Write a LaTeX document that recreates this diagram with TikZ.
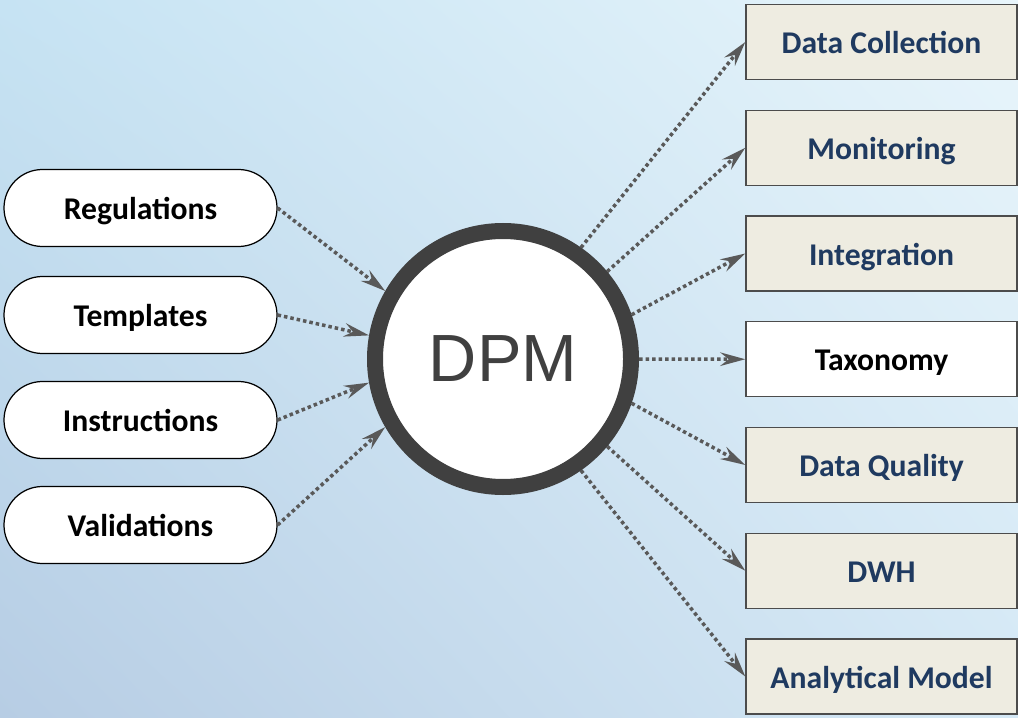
\documentclass[tikz,border=0pt]{standalone}
\usepackage{fontspec}
\setmainfont{Carlito}
\newfontfamily\dpmfont{Liberation Sans}
\usetikzlibrary{arrows.meta,shadings}
\definecolor{bgtl}{HTML}{C6E3F3}
\definecolor{bgtr}{HTML}{E8F5FB}
\definecolor{bgbl}{HTML}{B7CDE4}
\definecolor{bgbr}{HTML}{D4E8F5}
\definecolor{boxbeige}{HTML}{EEECE1}
\definecolor{navytext}{HTML}{1F3A60}
\definecolor{dotgray}{HTML}{595959}
\tikzset{
  source/.style={draw=black, line width=0.7pt, fill=white, rounded corners=0.77cm,
    minimum width=5.46cm, minimum height=1.54cm, text height=16pt, text depth=2.5pt,
    font=\bfseries\fontsize{18}{20}\selectfont},
  target/.style={draw=black!70, line width=0.8pt, fill=boxbeige, text=navytext,
    minimum width=5.42cm, minimum height=1.5cm, text height=16pt, text depth=2.7pt,
    font=\bfseries\fontsize{18}{20}\selectfont},
  hub/.style={circle, draw=black!75, line width=0.32cm, fill=white, inner sep=0pt,
    minimum size=5.12cm, text=black!75, font=\dpmfont\fontsize{38}{42}\selectfont},
  flow/.style={dotgray, line width=0.07cm, dash pattern=on 0.07cm off 0.06cm,
    -{Stealth[length=0.5cm, width=0.27cm, inset=0.17cm, sep=0pt]}}
}

\begin{document}
\begin{tikzpicture}
			%%%%% START %%%%%
			
			\useasboundingbox (0, 0) rectangle (20.36, 14.34);
			\shade[upper left=bgtl, upper right=bgtr, lower left=bgbl, lower right=bgbr] (0, 0) rectangle (20.36, 14.34);
			
			\node[hub] (dpm) at (10.06, 7.16) {DPM};
			
			\node[source] (regulations) at (2.81, 10.18) {Regulations};
			\node[source] (templates) at (2.81, 8.04) {Templates};
			\node[source] (instructions) at (2.81, 5.94) {Instructions};
			\node[source] (validations) at (2.81, 3.84) {Validations};
			
			\node[target] (collection) at (17.63, 13.50) {Data Collection};
			\node[target] (monitoring) at (17.63, 11.385) {Monitoring};
			\node[target] (integration) at (17.63, 9.27) {Integration};
			\node[target, fill=white, text=black] (taxonomy) at (17.63, 7.155) {Taxonomy};
			\node[target] (quality) at (17.63, 5.04) {Data Quality};
			\node[target] (dwh) at (17.63, 2.925) {DWH};
			\node[target] (analytical) at (17.63, 0.81) {Analytical Model};
			
			\draw[flow] (regulations.east) -- (dpm.150);
			\draw[flow] (templates.east) -- (dpm.170);
			\draw[flow] (instructions.east) -- (dpm.190);
			\draw[flow] (validations.east) -- (dpm.210);
			
			\draw[flow] (dpm.55) -- (collection.west);
			\draw[flow] (dpm.40) -- (monitoring.west);
			\draw[flow] (dpm.19) -- (integration.west);
			\draw[flow] (dpm.0) -- (taxonomy.west);
			\draw[flow] (dpm.-19) -- (quality.west);
			\draw[flow] (dpm.-40) -- (dwh.west);
			\draw[flow] (dpm.-55) -- (analytical.west);
			
			%%%%% END %%%%%
		\end{tikzpicture}
\end{document}
